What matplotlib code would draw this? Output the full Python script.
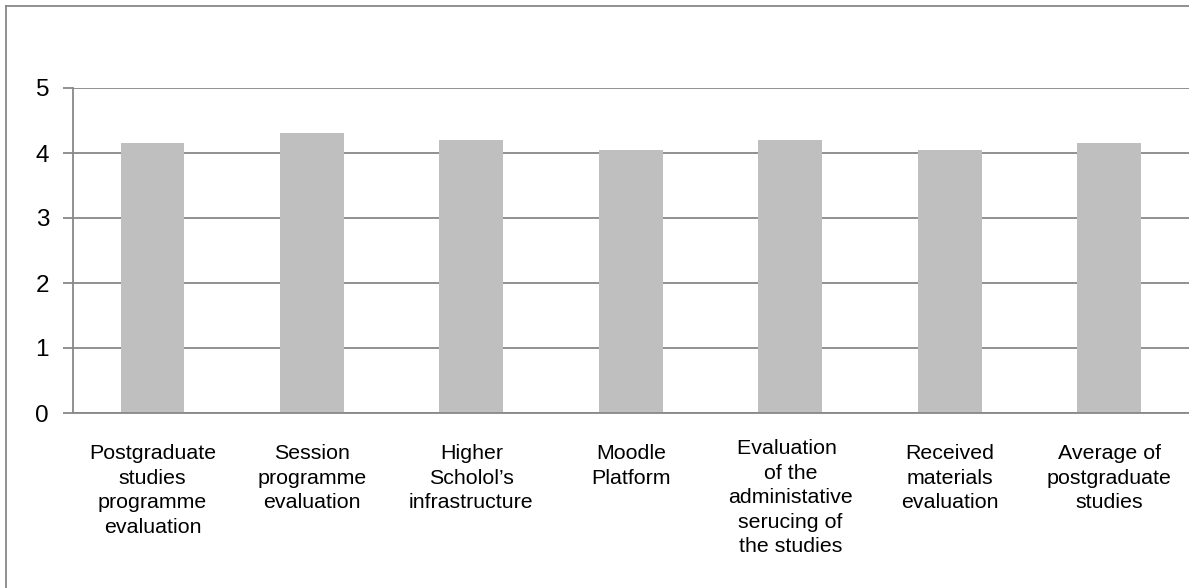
import matplotlib.pyplot as plt
from matplotlib.lines import Line2D

# Etiquetas de las categorías evaluadas
categorias = [
    "Postgraduate\nstudies\nprogramme\nevaluation",
    "Session\nprogramme\nevaluation",
    "Higher\nScholol\u2019s\ninfrastructure",
    "Moodle\nPlatform",
    "Evaluation \nof the\nadministative\nserucing of\nthe studies",
    "Received\nmaterials\nevaluation",
    "Average of\npostgraduate\nstudies",
]

# Puntuación media de cada categoría
valores = [4.15, 4.31, 4.20, 4.05, 4.20, 4.05, 4.16]

# Escala del eje y
y_ticks = [0, 1, 2, 3, 4, 5]

gris = '#888888'
plt.rcParams['font.family'] = ['Liberation Sans', 'DejaVu Sans']

fig = plt.figure(figsize=(11.89, 5.88), dpi=100)
ax = fig.add_axes([72.7 / 1189, 1 - 413 / 588, 1 - 72.7 / 1189, (413 - 88) / 588])

x = range(len(valores))
ax.bar(x, valores, width=0.4, color='#bfbfbf', zorder=2)

ax.set_xlim(-0.5, len(valores) - 0.5)
ax.set_ylim(0, 5)
ax.set_yticks(y_ticks)
ax.set_yticklabels([str(v) for v in y_ticks], fontsize=17.5)
ax.yaxis.grid(True, color=gris, linewidth=1.3, zorder=0)
ax.set_axisbelow(True)
ax.tick_params(axis='y', length=7, width=1.3, color=gris, pad=10)
ax.tick_params(axis='x', length=0)
ax.set_xticks([])

for lado in ['top', 'right']:
    ax.spines[lado].set_visible(False)
for lado in ['left', 'bottom']:
    ax.spines[lado].set_color(gris)
    ax.spines[lado].set_linewidth(1.3)

# Rótulos de categoría bajo cada barra
for i, texto in enumerate(categorias):
    desfase = -26 if i == 4 else -31
    ax.annotate(texto, xy=(i, 0), xycoords='data', xytext=(0, desfase),
                textcoords='offset pixels', ha='center', va='top',
                fontsize=15.4, linespacing=1.37)

# Marco exterior del gráfico
fig.add_artist(Line2D([6 / 1189, 6 / 1189], [0, 1 - 6 / 588], transform=fig.transFigure,
                      color=gris, linewidth=1.3))
fig.add_artist(Line2D([6 / 1189, 1], [1 - 6 / 588, 1 - 6 / 588], transform=fig.transFigure,
                      color=gris, linewidth=1.3))

fig.savefig('out.png', dpi=100)
